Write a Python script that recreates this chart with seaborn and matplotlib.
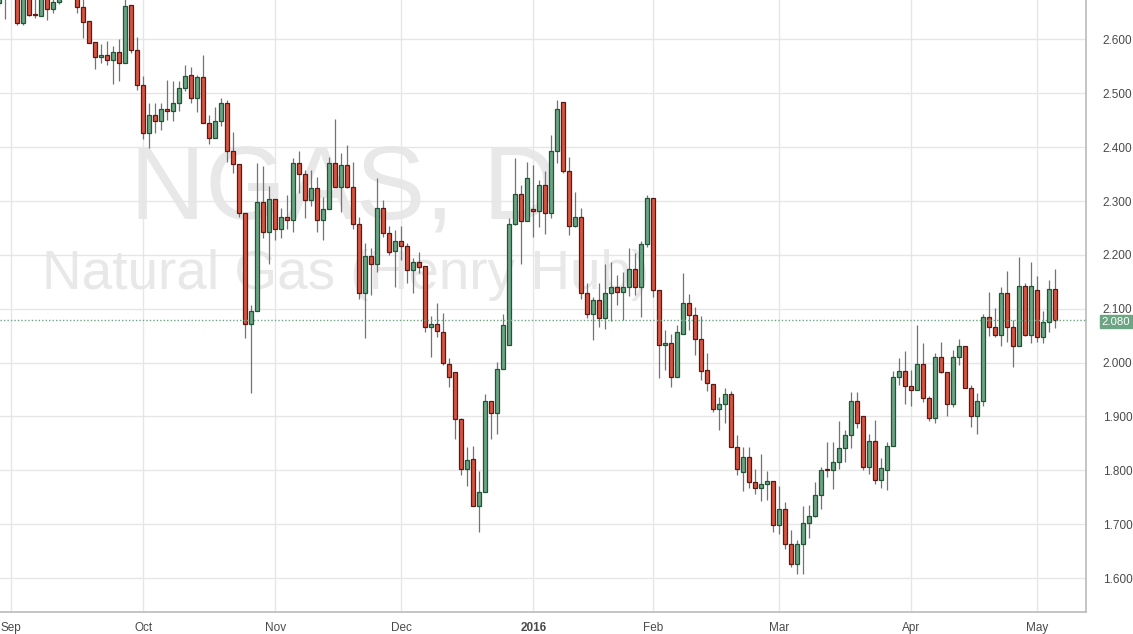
import numpy as np
import pandas as pd
import matplotlib
matplotlib.use("Agg")
import matplotlib.pyplot as plt
import seaborn as sns

# ---------------- data ----------------
opens = [2.667, 2.690, 2.700, 2.700, 2.630, 2.690, 2.646, 2.644, 2.690, 2.656,
         2.669, 2.690, 2.720, 2.690, 2.661, 2.635, 2.595, 2.567, 2.571, 2.561,
         2.576, 2.556, 2.664, 2.580, 2.515, 2.426, 2.459, 2.448, 2.470, 2.467,
         2.482, 2.509, 2.534, 2.491, 2.530, 2.444, 2.417, 2.449, 2.482, 2.393,
         2.368, 2.277, 2.071, 2.096, 2.298, 2.242, 2.303, 2.249, 2.270, 2.264,
         2.371, 2.350, 2.302, 2.324, 2.265, 2.285, 2.371, 2.326, 2.367, 2.326,
         2.257, 2.129, 2.198, 2.184, 2.287, 2.240, 2.208, 2.225, 2.217, 2.172,
         2.186, 2.179, 2.067, 2.072, 2.057, 1.997, 1.983, 1.895, 1.802, 1.821,
         1.734, 1.760, 1.929, 1.906, 1.989, 2.033, 2.257, 2.313, 2.263, 2.285,
         2.281, 2.329, 2.277, 2.393, 2.483, 2.356, 2.254, 2.271, 2.130, 2.090,
         2.116, 2.082, 2.129, 2.140, 2.132, 2.140, 2.173, 2.141, 2.220, 2.306,
         2.135, 2.033, 2.036, 1.973, 2.054, 2.110, 2.088, 2.043, 1.986, 1.960,
         1.913, 1.924, 1.941, 1.843, 1.796, 1.825, 1.778, 1.768, 1.774, 1.781,
         1.698, 1.729, 1.663, 1.626, 1.664, 1.702, 1.716, 1.754, 1.801, 1.801,
         1.816, 1.841, 1.866, 1.929, 1.901, 1.806, 1.855, 1.782, 1.800, 1.846,
         1.974, 1.984, 1.957, 1.950, 1.997, 1.934, 1.898, 2.010, 1.983, 1.924,
         2.010, 2.030, 1.952, 1.900, 1.929, 2.084, 2.066, 2.052, 2.129, 2.066,
         2.030, 2.142, 2.051, 2.135, 2.047, 2.076, 2.136]
highs = [2.700, 2.720, 2.740, 2.710, 2.700, 2.700, 2.680, 2.700, 2.700, 2.680,
         2.700, 2.740, 2.730, 2.700, 2.675, 2.635, 2.595, 2.591, 2.597, 2.587,
         2.600, 2.680, 2.664, 2.604, 2.533, 2.482, 2.482, 2.482, 2.525, 2.522,
         2.522, 2.552, 2.549, 2.534, 2.571, 2.460, 2.475, 2.491, 2.488, 2.429,
         2.368, 2.277, 2.107, 2.370, 2.365, 2.328, 2.303, 2.288, 2.311, 2.379,
         2.392, 2.358, 2.358, 2.345, 2.307, 2.382, 2.452, 2.389, 2.404, 2.373,
         2.271, 2.222, 2.212, 2.343, 2.301, 2.254, 2.246, 2.254, 2.223, 2.194,
         2.206, 2.179, 2.087, 2.111, 2.092, 2.008, 1.983, 1.897, 1.843, 1.845,
         1.799, 1.942, 1.929, 2.002, 2.090, 2.268, 2.379, 2.330, 2.373, 2.367,
         2.339, 2.355, 2.423, 2.488, 2.483, 2.381, 2.317, 2.288, 2.147, 2.122,
         2.147, 2.184, 2.186, 2.163, 2.169, 2.212, 2.203, 2.225, 2.311, 2.306,
         2.135, 2.061, 2.053, 2.070, 2.166, 2.127, 2.103, 2.087, 2.018, 1.960,
         1.936, 1.952, 1.947, 1.866, 1.844, 1.844, 1.802, 1.830, 1.799, 1.781,
         1.770, 1.742, 1.689, 1.671, 1.734, 1.736, 1.779, 1.806, 1.853, 1.852,
         1.892, 1.875, 1.946, 1.946, 1.901, 1.867, 1.893, 1.822, 1.853, 1.985,
         2.008, 2.022, 1.986, 2.070, 2.036, 1.938, 2.018, 2.039, 1.983, 2.023,
         2.043, 2.030, 1.958, 1.943, 2.090, 2.132, 2.101, 2.141, 2.171, 2.079,
         2.196, 2.148, 2.187, 2.161, 2.096, 2.153, 2.173]
lows = [2.660, 2.638, 2.690, 2.627, 2.626, 2.644, 2.640, 2.644, 2.636, 2.650,
        2.665, 2.680, 2.680, 2.649, 2.603, 2.594, 2.545, 2.557, 2.553, 2.517,
        2.523, 2.556, 2.574, 2.506, 2.415, 2.398, 2.426, 2.431, 2.451, 2.448,
        2.467, 2.504, 2.482, 2.466, 2.444, 2.406, 2.417, 2.439, 2.373, 2.352,
        2.270, 2.045, 1.943, 2.096, 2.231, 2.184, 2.228, 2.231, 2.249, 2.243,
        2.314, 2.268, 2.290, 2.243, 2.228, 2.285, 2.326, 2.280, 2.324, 2.249,
        2.119, 2.045, 2.126, 2.169, 2.234, 2.200, 2.141, 2.191, 2.147, 2.129,
        2.166, 2.056, 2.011, 2.048, 1.996, 1.955, 1.859, 1.791, 1.771, 1.734,
        1.686, 1.760, 1.859, 1.867, 1.989, 2.033, 2.255, 2.184, 2.263, 2.234,
        2.251, 2.239, 2.268, 2.371, 2.352, 2.237, 2.252, 2.119, 2.082, 2.042,
        2.067, 2.062, 2.078, 2.107, 2.079, 2.124, 2.126, 2.084, 2.215, 2.122,
        1.971, 1.986, 1.954, 1.973, 2.054, 2.061, 2.014, 1.968, 1.948, 1.909,
        1.874, 1.887, 1.843, 1.791, 1.762, 1.768, 1.756, 1.743, 1.745, 1.686,
        1.682, 1.653, 1.621, 1.607, 1.607, 1.674, 1.713, 1.728, 1.787, 1.765,
        1.802, 1.816, 1.841, 1.878, 1.801, 1.793, 1.775, 1.768, 1.763, 1.846,
        1.958, 1.924, 1.919, 1.950, 1.927, 1.892, 1.888, 1.980, 1.900, 1.918,
        1.996, 1.952, 1.880, 1.867, 1.919, 2.049, 2.047, 2.030, 2.039, 1.991,
        2.030, 2.049, 2.037, 2.039, 2.037, 2.057, 2.064]
closes = [2.690, 2.700, 2.720, 2.630, 2.690, 2.645, 2.645, 2.690, 2.656, 2.669,
          2.690, 2.720, 2.700, 2.660, 2.633, 2.594, 2.567, 2.571, 2.561, 2.576,
          2.556, 2.662, 2.580, 2.515, 2.426, 2.459, 2.448, 2.470, 2.467, 2.482,
          2.509, 2.533, 2.491, 2.530, 2.444, 2.417, 2.449, 2.482, 2.393, 2.368,
          2.277, 2.071, 2.096, 2.298, 2.242, 2.303, 2.249, 2.270, 2.264, 2.371,
          2.350, 2.302, 2.324, 2.265, 2.285, 2.371, 2.326, 2.367, 2.326, 2.257,
          2.129, 2.198, 2.184, 2.287, 2.240, 2.206, 2.225, 2.217, 2.172, 2.186,
          2.177, 2.067, 2.072, 2.059, 1.999, 1.974, 1.895, 1.802, 1.820, 1.734,
          1.760, 1.929, 1.906, 1.989, 2.070, 2.257, 2.313, 2.263, 2.342, 2.281,
          2.329, 2.277, 2.393, 2.470, 2.356, 2.254, 2.271, 2.130, 2.090, 2.116,
          2.082, 2.129, 2.140, 2.132, 2.140, 2.173, 2.141, 2.220, 2.306, 2.135,
          2.033, 2.036, 1.973, 2.056, 2.110, 2.088, 2.043, 1.985, 1.962, 1.913,
          1.924, 1.941, 1.843, 1.802, 1.825, 1.778, 1.768, 1.774, 1.781, 1.698,
          1.729, 1.664, 1.626, 1.664, 1.702, 1.716, 1.754, 1.801, 1.800, 1.816,
          1.841, 1.866, 1.929, 1.887, 1.806, 1.855, 1.782, 1.804, 1.846, 1.974,
          1.984, 1.957, 1.950, 1.997, 1.934, 1.898, 2.010, 1.983, 1.924, 2.010,
          2.030, 1.952, 1.900, 1.929, 2.084, 2.066, 2.052, 2.129, 2.066, 2.030,
          2.142, 2.051, 2.142, 2.047, 2.076, 2.136, 2.080]

month_labels = ["Sep", "Oct", "Nov", "Dec", "2016", "Feb", "Mar", "Apr", "May"]
month_bar_index = [2, 24, 46, 67, 89, 109, 130, 152, 173]
price_ticks = [1.6, 1.7, 1.8, 1.9, 2.0, 2.1, 2.2, 2.3, 2.4, 2.5, 2.6]
last_price = 2.080
symbol_text = "NGAS, D"
name_text = "Natural Gas (Henry Hub)"

df = pd.DataFrame({"open": opens, "high": highs, "low": lows, "close": closes})
df["idx"] = np.arange(len(df))

# ---------------- style ----------------
sns.set_theme(style="white")
plt.rcParams["font.family"] = ["Liberation Sans", "DejaVu Sans"]

UP_FILL, UP_EDGE = "#6BA583", "#225437"
DN_FILL, DN_EDGE = "#D75442", "#5B1A13"
WICK = "#737375"
GRID = "#E6E6E6"

W, H = 1133, 634
fig = plt.figure(figsize=(W / 100, H / 100), dpi=100)
ax = fig.add_axes([0, 22 / H, 1086 / W, 612 / H])
ax.set_facecolor("white")

# watermark
ax.text(344 / 1086, 1 - 218 / 612, symbol_text, transform=ax.transAxes,
        ha="center", va="baseline", fontsize=75, color="#E8E8E8", zorder=0)
ax.text(346 / 1086, 1 - 289 / 612, name_text, transform=ax.transAxes,
        ha="center", va="baseline", fontsize=39.5, color="#E8E8E8", zorder=0)

# grid
for p in price_ticks:
    ax.axhline(p, color=GRID, lw=1, zorder=0.5)
for m in month_bar_index:
    ax.axvline(m, color=GRID, lw=1, zorder=0.5)

# candles
up = df["close"] >= df["open"]
ax.vlines(df["idx"], df["low"], df["high"], color=WICK, lw=0.9, zorder=2)
body_bottom = np.minimum(df["open"], df["close"])
body_h = np.maximum(np.abs(df["close"] - df["open"]), 0.002)
ax.bar(df["idx"][up], body_h[up], bottom=body_bottom[up], width=0.68,
       color=UP_FILL, edgecolor=UP_EDGE, linewidth=0.9, zorder=3)
ax.bar(df["idx"][~up], body_h[~up], bottom=body_bottom[~up], width=0.68,
       color=DN_FILL, edgecolor=DN_EDGE, linewidth=0.9, zorder=3)

# last price line
ax.axhline(last_price, color=UP_FILL, lw=1, linestyle=(0, (1, 1.5)), zorder=4)

ax.set_xlim(0.117, 181.1)
ax.set_ylim(1.5369, 2.6733)

ax.set_xticks(month_bar_index)
ax.set_xticklabels(month_labels)
for lab in ax.get_xticklabels():
    if lab.get_text().isdigit():
        lab.set_fontweight("bold")
ax.yaxis.tick_right()
ax.set_yticks(price_ticks)
ax.set_yticklabels([f"{p:.3f}" for p in price_ticks])
ax.tick_params(axis="both", labelsize=8.5, colors="#4A4A4A", length=0)
ax.tick_params(axis="y", pad=12)
ax.tick_params(axis="x", pad=7)

sns.despine(ax=ax, left=True, top=True, right=False, bottom=False)
ax.spines["right"].set_color("#BDBDBD")
ax.spines["bottom"].set_color("#BDBDBD")

ax.annotate(f"{last_price:.3f}", xy=(1, last_price), xycoords=("axes fraction", "data"),
            xytext=(11, -1.5), textcoords="offset points", ha="left", va="center",
            fontsize=8.2, color="white",
            bbox=dict(boxstyle="square,pad=0.15", fc=UP_FILL, ec=UP_FILL))

fig.savefig("out.png", dpi=100)
